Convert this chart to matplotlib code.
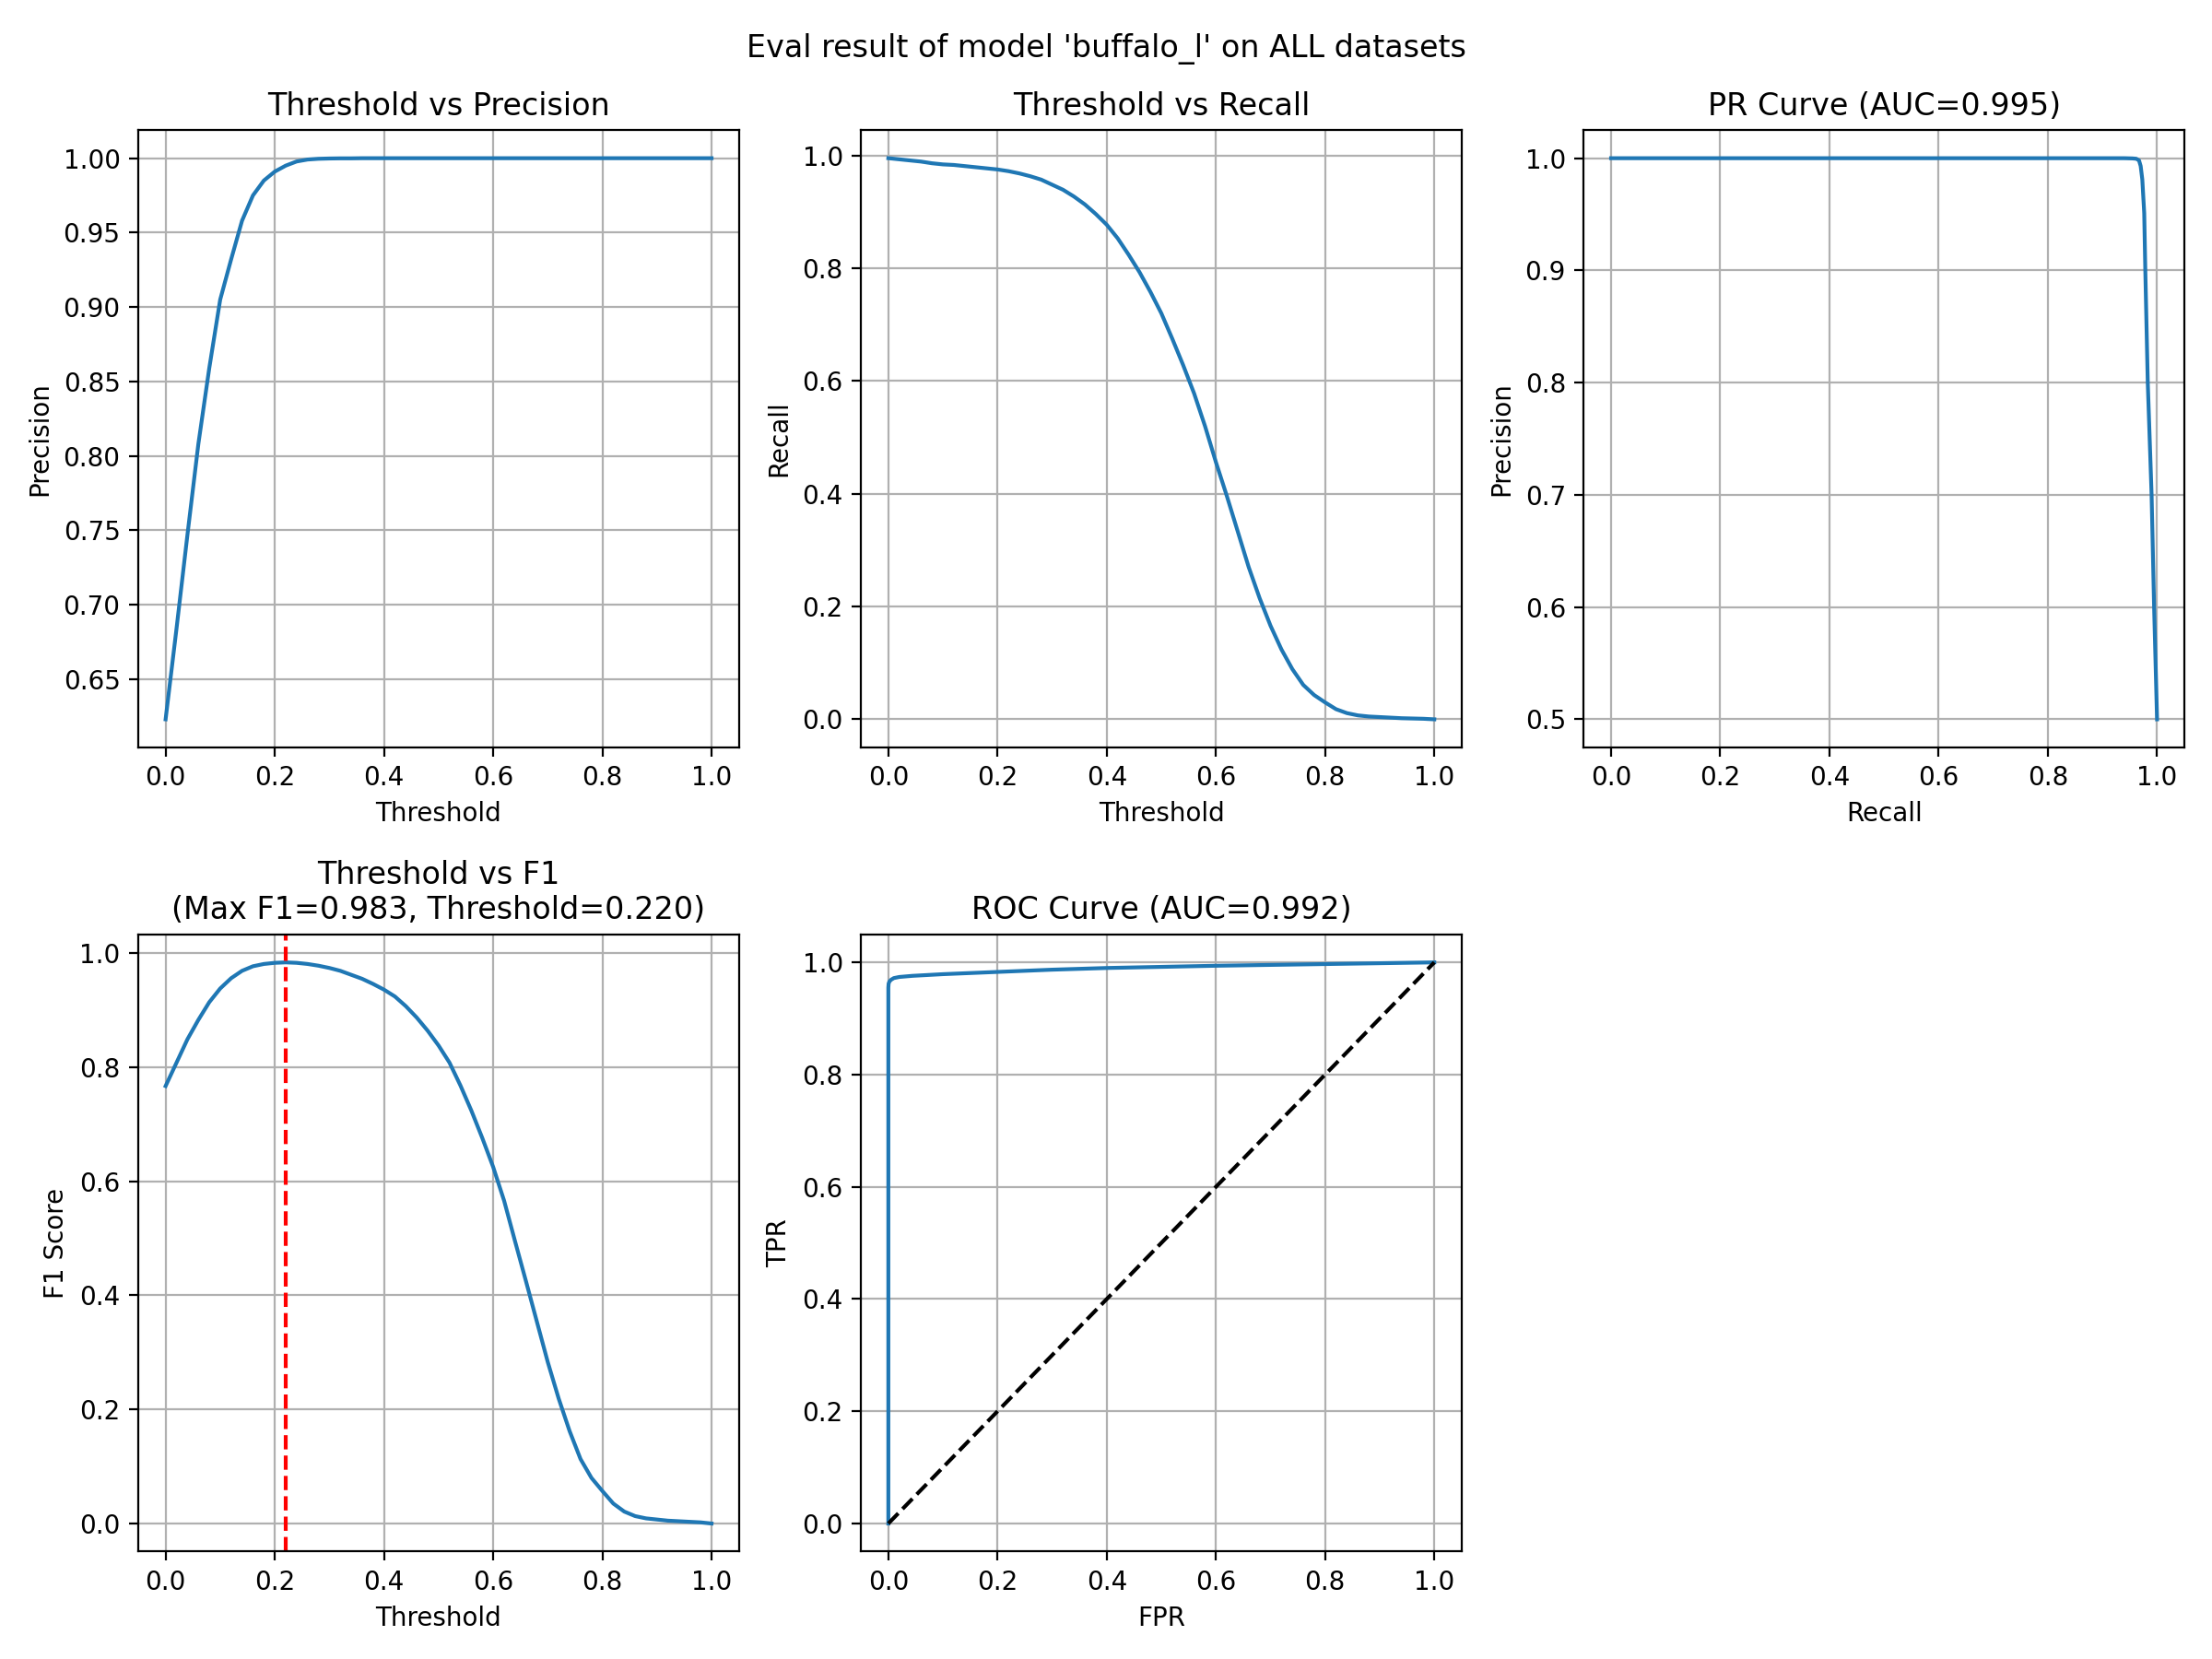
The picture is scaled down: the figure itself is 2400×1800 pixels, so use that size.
import matplotlib
matplotlib.use('Agg')
import matplotlib.pyplot as plt

# Threshold sweep (step 0.02)
thresholds = [0.00, 0.02, 0.04, 0.06, 0.08, 0.10, 0.12, 0.14, 0.16, 0.18,
              0.20, 0.22, 0.24, 0.26, 0.28, 0.30, 0.32, 0.34, 0.36, 0.38,
              0.40, 0.42, 0.44, 0.46, 0.48, 0.50, 0.52, 0.54, 0.56, 0.58,
              0.60, 0.62, 0.64, 0.66, 0.68, 0.70, 0.72, 0.74, 0.76, 0.78,
              0.80, 0.82, 0.84, 0.86, 0.88, 0.90, 0.92, 0.94, 0.96, 0.98,
              1.00]

precision = [0.623, 0.684, 0.747, 0.808, 0.859, 0.905, 0.932, 0.958, 0.975, 0.985,
             0.991, 0.995, 0.9978, 0.9991, 0.9996, 0.9998, 0.9999, 0.9999, 1.0, 1.0,
             1.0, 1.0, 1.0, 1.0, 1.0, 1.0, 1.0, 1.0, 1.0, 1.0,
             1.0, 1.0, 1.0, 1.0, 1.0, 1.0, 1.0, 1.0, 1.0, 1.0,
             1.0, 1.0, 1.0, 1.0, 1.0, 1.0, 1.0, 1.0, 1.0, 1.0,
             1.0]

recall = [0.995, 0.993, 0.991, 0.989, 0.986, 0.984, 0.983, 0.981, 0.979, 0.977,
          0.975, 0.972, 0.968, 0.963, 0.957, 0.948, 0.939, 0.927, 0.913, 0.896,
          0.877, 0.853, 0.824, 0.793, 0.758, 0.720, 0.675, 0.628, 0.578, 0.520,
          0.456, 0.396, 0.333, 0.270, 0.215, 0.166, 0.124, 0.089, 0.061, 0.043,
          0.030, 0.018, 0.011, 0.007, 0.005, 0.004, 0.003, 0.002, 0.0015, 0.001,
          0.0]

f1 = [0.767, 0.808, 0.849, 0.883, 0.914, 0.938, 0.956, 0.969, 0.977, 0.981,
      0.983, 0.9838, 0.983, 0.981, 0.978, 0.974, 0.969, 0.962, 0.955, 0.946,
      0.936, 0.924, 0.907, 0.887, 0.864, 0.838, 0.808, 0.768, 0.724, 0.676,
      0.625, 0.566, 0.495, 0.425, 0.354, 0.283, 0.219, 0.162, 0.113, 0.080,
      0.057, 0.035, 0.021, 0.013, 0.009, 0.007, 0.005, 0.004, 0.003, 0.002,
      0.0]

best_f1 = 0.983
best_thr = 0.220

# PR curve
pr_recall = [0.0, 0.2, 0.4, 0.6, 0.8, 0.9, 0.94, 0.955, 0.962, 0.967,
             0.970, 0.973, 0.9765, 0.9785, 0.983, 0.990, 0.9946, 1.0]
pr_precision = [1.0, 1.0, 1.0, 1.0, 1.0, 1.0, 1.0, 0.9998, 0.9995, 0.998,
                0.993, 0.981, 0.951, 0.900, 0.800, 0.700, 0.600, 0.500]
pr_auc = 0.995

# ROC curve
fpr = [0.0, 0.0, 0.0005, 0.002, 0.005, 0.01, 0.02, 0.044, 0.1, 0.2,
       0.3, 0.4, 0.6, 0.8, 1.0]
tpr = [0.0, 0.955, 0.962, 0.966, 0.969, 0.972, 0.974, 0.976, 0.979, 0.983,
       0.987, 0.990, 0.994, 0.997, 1.0]
roc_auc = 0.992

model_name = 'buffalo_l'

fig, axes = plt.subplots(2, 3, figsize=(12, 9))
fig.suptitle(f"Eval result of model '{model_name}' on ALL datasets")

ax = axes[0, 0]
ax.plot(thresholds, precision)
ax.set_title('Threshold vs Precision')
ax.set_xlabel('Threshold')
ax.set_ylabel('Precision')
ax.grid(True)

ax = axes[0, 1]
ax.plot(thresholds, recall)
ax.set_title('Threshold vs Recall')
ax.set_xlabel('Threshold')
ax.set_ylabel('Recall')
ax.grid(True)

ax = axes[0, 2]
ax.plot(pr_recall, pr_precision)
ax.set_title(f'PR Curve (AUC={pr_auc:.3f})')
ax.set_xlabel('Recall')
ax.set_ylabel('Precision')
ax.grid(True)

ax = axes[1, 0]
ax.plot(thresholds, f1)
ax.axvline(best_thr, color='r', linestyle='--')
ax.set_title(f'Threshold vs F1\n(Max F1={best_f1:.3f}, Threshold={best_thr:.3f})')
ax.set_xlabel('Threshold')
ax.set_ylabel('F1 Score')
ax.grid(True)

ax = axes[1, 1]
ax.plot(fpr, tpr)
ax.plot([0, 1], [0, 1], 'k--')
ax.set_title(f'ROC Curve (AUC={roc_auc:.3f})')
ax.set_xlabel('FPR')
ax.set_ylabel('TPR')
ax.grid(True)

fig.delaxes(axes[1, 2])

plt.tight_layout()
plt.savefig('out.png', dpi=200)
plt.close(fig)
